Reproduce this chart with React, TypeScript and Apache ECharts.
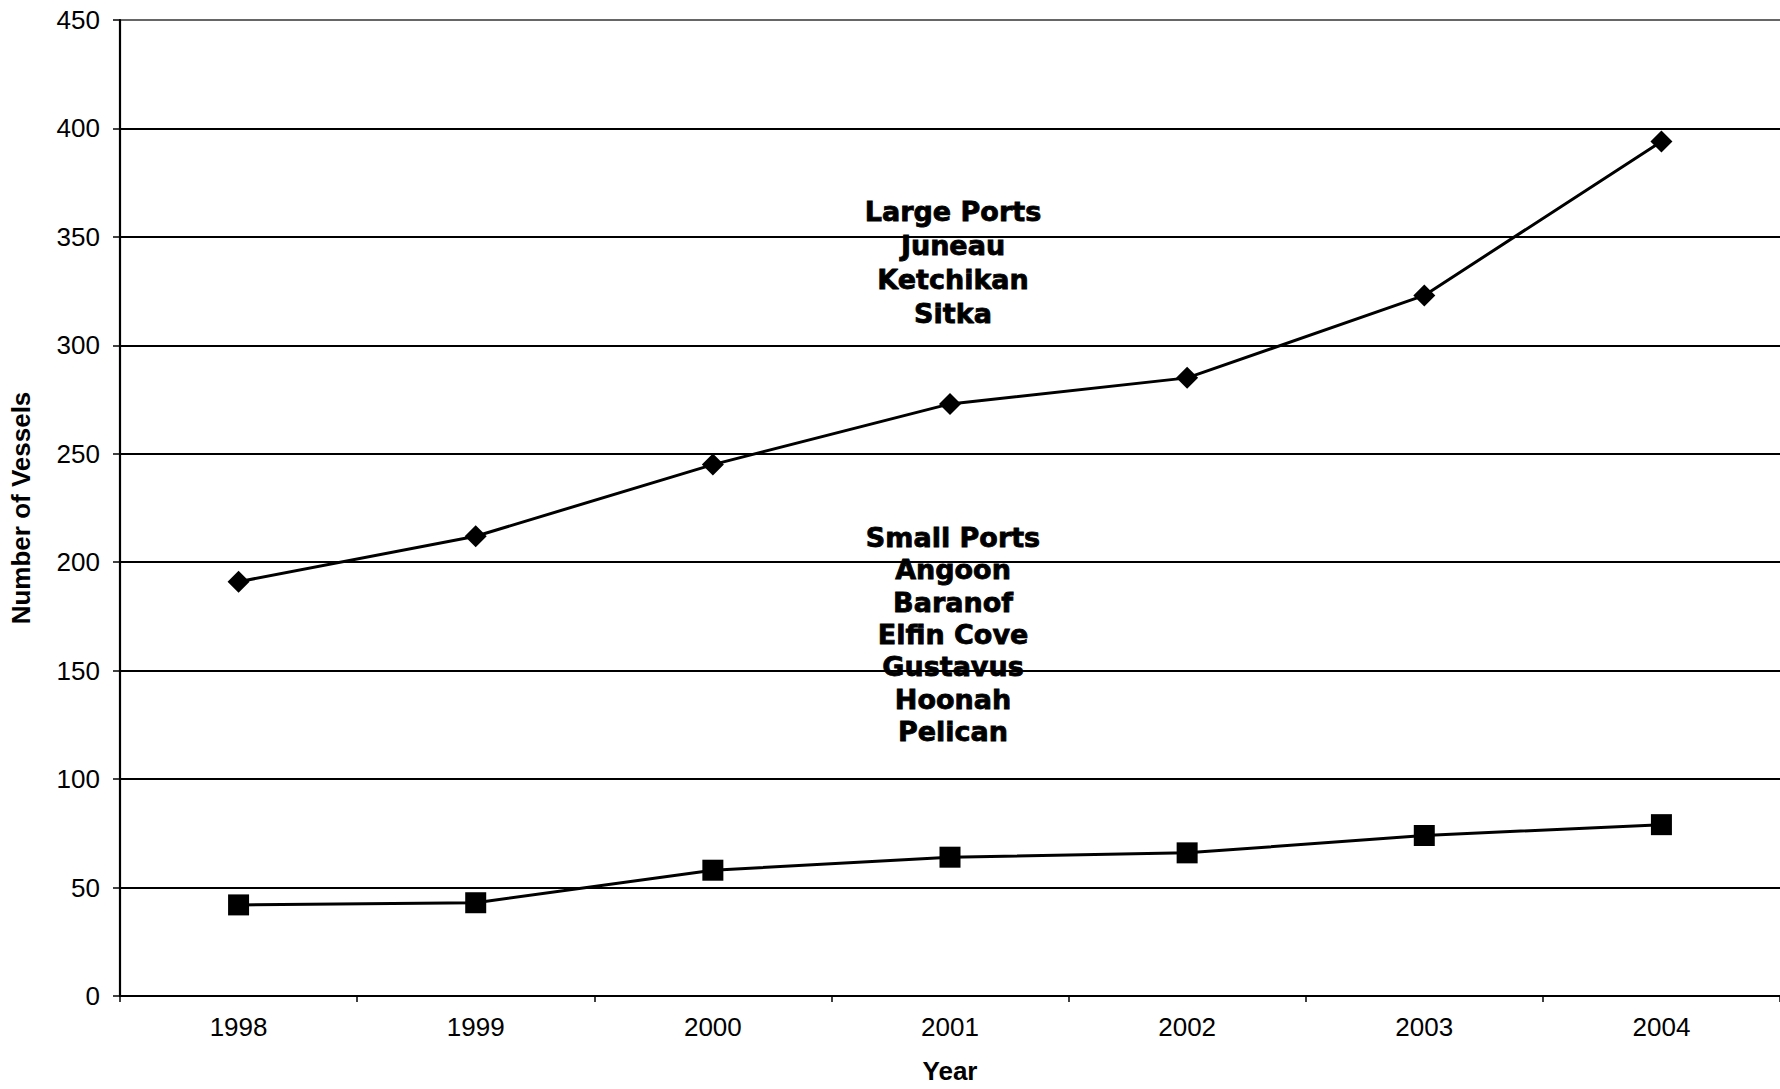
import React, { useEffect, useRef } from "react";
import * as echarts from "echarts";

const years = ["1998", "1999", "2000", "2001", "2002", "2003", "2004"];
const largePorts = [191, 212, 245, 273, 285, 323, 394];
const smallPorts = [42, 43, 58, 64, 66, 74, 79];
const largePortLines = ["Large Ports", "Juneau", "Ketchikan", "Sitka"];
const smallPortLines = ["Small Ports", "Angoon", "Baranof", "Elfin Cove", "Gustavus", "Hoonah", "Pelican"];
const yAxisTitle = "Number of Vessels";
const xAxisTitle = "Year";

export default function App() {
  const ref = useRef<HTMLDivElement>(null);
  useEffect(() => {
    if (!ref.current) return;
    const chart = echarts.init(ref.current, undefined, { renderer: "svg" });
    const gridColors = ["#000", "#000", "#000", "#000", "#000", "#000", "#000", "#000", "#000", "#666"];
    chart.setOption({
      animation: false,
      backgroundColor: "#fff",
      grid: { left: 116, right: 0, top: 20, bottom: 93, containLabel: false },
      xAxis: {
        type: "category",
        data: years,
        boundaryGap: true,
        name: xAxisTitle,
        nameLocation: "middle",
        nameGap: 62,
        nameTextStyle: { fontFamily: "Liberation Sans", fontWeight: "bold", fontSize: 26, color: "#000" },
        axisLine: { lineStyle: { color: "#000", width: 2 } },
        axisTick: { show: true, alignWithLabel: false, length: 6, lineStyle: { color: "#000", width: 1.5 } },
        axisLabel: { fontFamily: "Liberation Sans", fontSize: 26, color: "#000", margin: 18 },
        splitLine: { show: false },
      },
      yAxis: {
        type: "value",
        min: 0,
        max: 450,
        interval: 50,
        name: yAxisTitle,
        nameLocation: "middle",
        nameGap: 86,
        nameRotate: 90,
        nameTextStyle: { fontFamily: "Liberation Sans", fontWeight: "bold", fontSize: 26, color: "#000" },
        axisLine: { show: true, lineStyle: { color: "#000", width: 2.2 } },
        axisTick: { show: true, length: 7, lineStyle: { color: "#000", width: 1.5 } },
        axisLabel: { fontFamily: "Liberation Sans", fontSize: 26, color: "#000", margin: 20 },
        splitLine: { show: true, lineStyle: { color: gridColors, width: 1.8 } },
      },
      series: [
        {
          name: "Large Ports",
          type: "line",
          data: largePorts,
          symbol: "diamond",
          symbolSize: 22,
          itemStyle: { color: "#000" },
          lineStyle: { color: "#000", width: 3 },
          z: 3,
        },
        {
          name: "Small Ports",
          type: "line",
          data: smallPorts,
          symbol: "rect",
          symbolSize: 21,
          itemStyle: { color: "#000" },
          lineStyle: { color: "#000", width: 3 },
          z: 3,
        },
      ],
      graphic: [
        {
          type: "text",
          x: 953,
          y: 194,
          z: 10,
          style: {
            text: largePortLines.join("\n"),
            fontFamily: "DejaVu Sans",
            fontWeight: "bold",
            fontSize: 27,
            lineHeight: 34,
            fill: "#000",
            stroke: "#000",
            lineWidth: 0.8,
            textAlign: "center",
            textVerticalAlign: "top",
          },
        },
        {
          type: "text",
          x: 953,
          y: 521,
          z: 10,
          style: {
            text: smallPortLines.join("\n"),
            fontFamily: "DejaVu Sans",
            fontWeight: "bold",
            fontSize: 27,
            lineHeight: 32.4,
            fill: "#000",
            stroke: "#000",
            lineWidth: 0.8,
            textAlign: "center",
            textVerticalAlign: "top",
          },
        },
      ],
    });
    return () => chart.dispose();
  }, []);
  return (
    <div
      ref={ref}
      style={{ position: "absolute", left: 0, top: 0, width: 1780, height: 1089 }}
    />
  );
}
